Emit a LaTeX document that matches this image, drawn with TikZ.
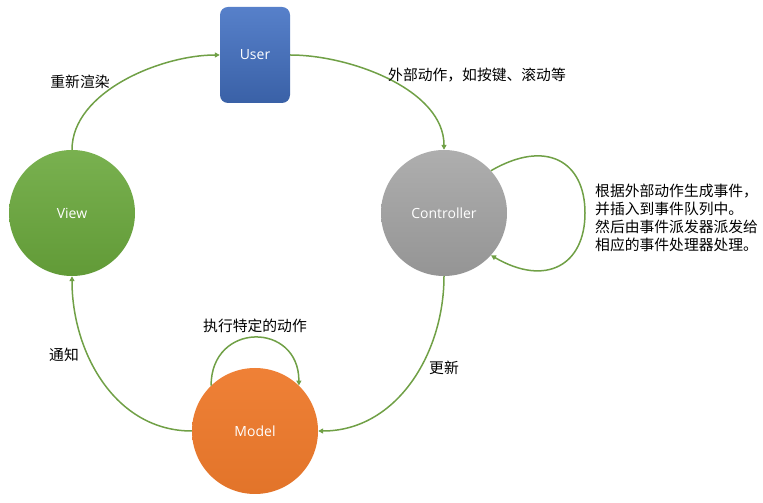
\documentclass[tikz,border=0pt]{standalone}
\usepackage{fontspec}
\setmainfont{Open Sans}
\newfontfamily\cjk{Noto Sans CJK SC}
\usetikzlibrary{arrows.meta}
\definecolor{userblue}{HTML}{4472C4}
\definecolor{viewgreen}{HTML}{6AA83C}
\definecolor{ctrlgray}{HTML}{A5A5A5}
\definecolor{modelorange}{HTML}{EE7A2C}
\definecolor{flowgreen}{HTML}{70A046}

\begin{document}
\begin{tikzpicture}[x=1pt,y=1pt,
    flow/.style={draw=flowgreen,line width=1.5pt,-{Triangle[width=5pt,length=5pt]}},
    ball/.style={circle,minimum size=126pt,inner sep=0pt,text=white,font=\fontsize{14}{16}\selectfont},
    note/.style={font=\cjk\fontsize{14.8}{18}\selectfont,inner sep=0pt}]
    \useasboundingbox (0,0) rectangle (763,503);
    \node[rectangle,rounded corners=8pt,minimum width=70pt,minimum height=96pt,
      top color=userblue!90!white,bottom color=userblue!85!black,text=white,
      font=\fontsize{14}{16}\selectfont] (user) at (255,448) {User};
    \node[ball,top color=viewgreen!90!white,bottom color=viewgreen!92!black] (view) at (72,290) {View};
    \node[ball,top color=ctrlgray!90!white,bottom color=ctrlgray!90!black] (ctrl) at (444,290) {Controller};
    \node[ball,top color=modelorange!95!white,bottom color=modelorange!95!black] (model) at (255,72) {Model};
    \coordinate (ctrlloop) at (585,290);

    \draw[flow] (view.north) to[out=90,in=180,looseness=0.85] (user.west);
    \draw[flow] (user.east) to[out=0,in=90,looseness=0.85] (ctrl.north);
    \draw[flow] (ctrl.42) .. controls +(55,32) and +(0,52) .. (ctrlloop)
      .. controls +(0,-52) and +(55,-32) .. (ctrl.-42);
    \draw[flow] (ctrl.south) to[out=-90,in=0] (model.east);
    \draw[flow] (model.west) to[out=180,in=-90] (view.south);
    \draw[flow] (model.134) .. controls +(0,64) and +(0,64) .. (model.46);

    \node[note] (lrender) at (80,421) {重新渲染};
    \node[note,anchor=west] (lext) at (388,428) {外部动作，如按键、滚动等};
    \node[note,anchor=west,align=left] (levent) at (595,285) {根据外部动作生成事件，\\并插入到事件队列中。\\然后由事件派发器派发给\\相应的事件处理器处理。};
    \node[note] (lupdate) at (444,135) {更新};
    \node[note] (lnotify) at (64,148) {通知};
    \node[note] (lexec) at (255,177) {执行特定的动作};
\end{tikzpicture}
\end{document}
